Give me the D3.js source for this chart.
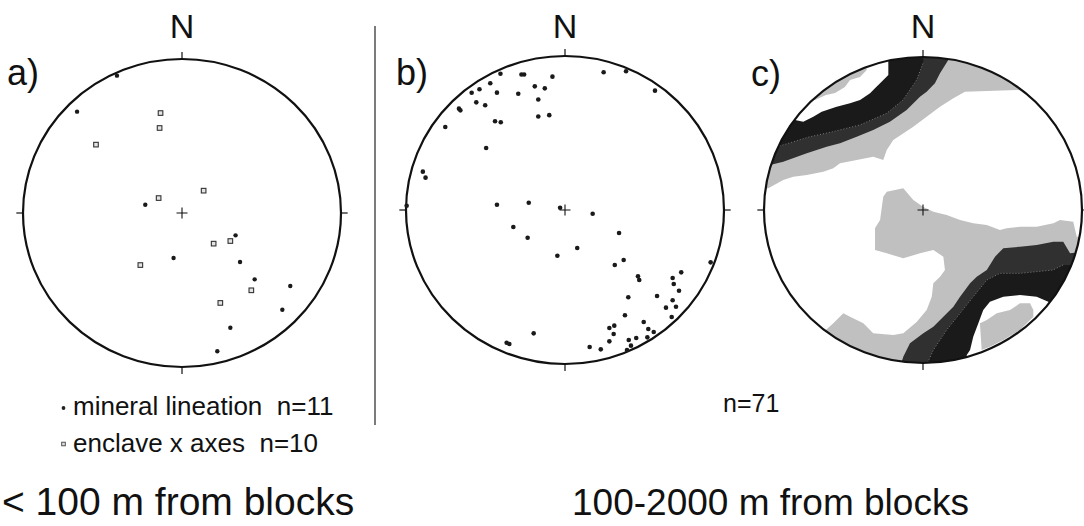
<!doctype html>
<html>

<head>
    <meta charset="utf-8">
    <title>Lineation stereonets</title>
    <style>
        body {
            margin: 0;
            background: #fff;
        }

        svg {
            display: block;
            font-family: "Liberation Sans", Arial, Helvetica, sans-serif;
        }
    </style>
    <script src="https://cdn.jsdelivr.net/npm/d3@7"></script>
</head>

<body>
    <svg width="1084" height="526"></svg>
    <script>
        // positions are [east, north] on the unit net (radius 1)
        var lineationA = [
            [-0.409, 0.892], [-0.660, 0.658], [-0.231, 0.054], [-0.053, -0.292],
            [0.337, -0.145], [0.365, -0.318], [0.457, -0.431], [0.681, -0.474],
            [0.631, -0.628], [0.304, -0.745], [0.222, -0.898]
        ];
        var enclaveA = [
            [-0.135, 0.649], [-0.141, 0.552], [-0.541, 0.444], [-0.147, 0.097],
            [0.136, 0.145], [0.199, -0.199], [0.304, -0.182], [-0.262, -0.338],
            [0.436, -0.502], [0.241, -0.584]
        ];
        var lineationB = [
            [-0.406, 0.885], [-0.274, 0.880], [-0.257, 0.880], [-0.079, 0.866], [-0.470, 0.823],
            [-0.587, 0.761], [-0.538, 0.784], [-0.428, 0.762], [-0.294, 0.755], [-0.190, 0.803],
            [-0.127, 0.790], [-0.168, 0.718], [-0.558, 0.699], [-0.502, 0.680], [-0.667, 0.658],
            [-0.658, 0.647], [-0.440, 0.576], [-0.404, 0.570], [-0.168, 0.607], [-0.099, 0.616],
            [-0.753, 0.539], [-0.496, 0.403], [-0.894, 0.249], [-0.877, 0.210], [-0.996, 0.028],
            [0.243, 0.894], [0.384, 0.901], [0.566, 0.775], [-0.428, 0.034], [-0.228, 0.047],
            [-0.031, 0.015], [0.174, -0.024], [-0.325, -0.110], [-0.235, -0.180], [0.077, -0.247],
            [-0.048, -0.297], [0.340, -0.149], [0.369, -0.325], [0.313, -0.357], [0.916, -0.340],
            [0.459, -0.431], [0.467, -0.455], [0.677, -0.442], [0.684, -0.481], [0.731, -0.405],
            [0.717, -0.524], [0.398, -0.567], [0.579, -0.558], [0.677, -0.586], [0.635, -0.634],
            [0.698, -0.628], [0.671, -0.695], [0.377, -0.683], [0.495, -0.727], [0.279, -0.766],
            [0.310, -0.751], [0.524, -0.773], [0.558, -0.792], [0.306, -0.805], [0.518, -0.827],
            [0.448, -0.831], [0.401, -0.844], [0.279, -0.853], [0.415, -0.881], [0.390, -0.909],
            [0.155, -0.890], [0.225, -0.905], [-0.197, -0.801], [-0.367, -0.862], [-0.350, -0.870]
        ];

        // density contour outlines for net c (points outside radius 1 are cut by the rim)
        var nwLevel1 = [
            [-1.1, 0.13], [-0.973, 0.142], [-0.879, 0.196], [-0.816, 0.218], [-0.731, 0.229],
            [-0.627, 0.250], [-0.564, 0.273], [-0.522, 0.305], [-0.417, 0.327], [-0.313, 0.348],
            [-0.250, 0.327], [-0.228, 0.392], [-0.187, 0.458], [-0.061, 0.544], [0.023, 0.610],
            [0.107, 0.675], [0.191, 0.730], [0.264, 0.773], [0.589, 0.784], [0.66, 0.78],
            [0.75, 0.9], [0.6, 1.2], [-0.5, 1.2], [-1.2, 0.5]
        ];
        var nwLevel2 = [
            [-1.1, 0.288], [-0.962, 0.294], [-0.879, 0.316], [-0.731, 0.371], [-0.606, 0.414],
            [-0.522, 0.436], [-0.417, 0.479], [-0.313, 0.523], [-0.208, 0.577], [-0.103, 0.654],
            [-0.019, 0.741], [0.023, 0.773], [0.075, 0.828], [0.107, 0.893], [0.159, 0.980],
            [0.2, 1.2], [-0.6, 1.2], [-1.2, 0.6]
        ];
        var nwLevel3 = [
            [-1.1, 0.42], [-0.920, 0.414], [-0.881, 0.425], [-0.711, 0.479], [-0.566, 0.512],
            [-0.396, 0.556], [-0.228, 0.632], [-0.126, 0.719], [-0.040, 0.850], [0.000, 0.959],
            [0.013, 1.1], [0.01, 1.2], [-1.2, 1.2]
        ];
        var nwLevel4 = [
            [-0.9, 0.65], [-0.805, 0.588], [-0.753, 0.577], [-0.690, 0.610], [-0.637, 0.642],
            [-0.543, 0.675], [-0.459, 0.697], [-0.396, 0.719], [-0.333, 0.763], [-0.302, 0.795],
            [-0.270, 0.828], [-0.218, 0.882], [-0.218, 0.948], [-0.22, 1.1], [-0.9, 1.0]
        ];
        var nwLevel5 = [
            [-0.76, 0.72], [-0.679, 0.719], [-0.610, 0.752], [-0.553, 0.765], [-0.491, 0.804],
            [-0.459, 0.850], [-0.396, 0.869], [-0.354, 0.915], [-0.36, 1.0], [-0.7, 0.9]
        ];
        var seLevel1 = [
            [-0.228, 0.120], [-0.124, 0.142], [-0.061, 0.065], [0.002, 0.020], [0.065, -0.011],
            [0.149, -0.033], [0.233, -0.065], [0.316, -0.087], [0.401, -0.098], [0.484, -0.131],
            [0.526, -0.120], [0.610, -0.109], [0.715, -0.109], [0.820, -0.087], [0.862, -0.065],
            [0.945, -0.076], [0.967, -0.175], [1.2, -0.2], [1.2, -1.2], [-0.7, -1.2],
            [-0.65, -0.82], [-0.564, -0.741], [-0.501, -0.675], [-0.459, -0.697], [-0.375, -0.741],
            [-0.313, -0.806], [-0.187, -0.817], [-0.124, -0.806], [-0.040, -0.732], [0.023, -0.654],
            [0.055, -0.567], [0.065, -0.479], [0.107, -0.436], [0.138, -0.392], [0.128, -0.305],
            [0.065, -0.261], [-0.019, -0.283], [-0.124, -0.316], [-0.228, -0.283], [-0.302, -0.261],
            [-0.302, -0.120], [-0.270, -0.065], [-0.250, 0.087]
        ];
        var seLevel2 = [
            [1.2, -0.25], [0.925, -0.283], [0.882, -0.207], [0.820, -0.207], [0.715, -0.229],
            [0.610, -0.240], [0.505, -0.250], [0.453, -0.305], [0.401, -0.392], [0.338, -0.436],
            [0.296, -0.479], [0.233, -0.567], [0.191, -0.632], [0.128, -0.697], [0.065, -0.763],
            [0.002, -0.806], [-0.082, -0.871], [-0.124, -0.959], [-0.134, -0.992], [-0.14, -1.2],
            [1.2, -1.2]
        ];
        var seLevel3 = [
            [1.2, -0.36], [0.881, -0.359], [0.818, -0.392], [0.610, -0.414], [0.484, -0.414],
            [0.401, -0.458], [0.316, -0.567], [0.233, -0.675], [0.149, -0.784], [0.065, -0.915],
            [0.031, -0.993], [0.03, -1.2], [1.2, -1.2]
        ];
        var seLevel4 = [
            [0.9, -0.65], [0.788, -0.599], [0.715, -0.567], [0.610, -0.556], [0.505, -0.567],
            [0.421, -0.599], [0.379, -0.654], [0.348, -0.741], [0.316, -0.828], [0.296, -0.915],
            [0.275, -0.948], [0.28, -1.2], [1.2, -1.2]
        ];
        var seLevel5 = [
            [0.358, -0.741], [0.401, -0.719], [0.464, -0.675], [0.547, -0.654], [0.610, -0.610],
            [0.673, -0.610], [0.694, -0.654], [0.694, -0.697], [0.610, -0.784], [0.505, -0.850],
            [0.421, -0.893], [0.369, -0.915]
        ];

        var panelLabels = ["a)", "b)", "c)"];
        var legendLabels = ["mineral lineation  n=11", "enclave x axes  n=10"];
        var countLabel = "n=71";
        var titles = ["< 100 m from blocks", "100-2000 m from blocks"];

        var svg = d3.select("svg");

        var nets = [
            { cx: 182, cy: 213, rx: 159, ry: 154, lx: 7, ly: 85 },
            { cx: 565, cy: 210, rx: 159, ry: 154, lx: 396, ly: 85 },
            { cx: 923, cy: 210, rx: 159, ry: 153, lx: 751, ly: 86 }
        ];

        nets.forEach(function (n, i) {
            n.x = d3.scaleLinear().domain([-1, 1]).range([n.cx - n.rx, n.cx + n.rx]);
            n.y = d3.scaleLinear().domain([-1, 1]).range([n.cy + n.ry, n.cy - n.ry]);
            n.g = svg.append("g");
        });

        // --- net c: shaded density contours
        var c = nets[2];
        svg.append("clipPath").attr("id", "rimC")
            .append("ellipse")
            .attr("cx", c.x(0)).attr("cy", c.y(0))
            .attr("rx", c.x(1) - c.x(0)).attr("ry", c.y(0) - c.y(1));

        var layers = [
            { pts: nwLevel1, fill: "#c0c0c0" },
            { pts: nwLevel2, fill: "#303030" },
            { pts: nwLevel3, fill: "#1a1a1a" },
            { pts: nwLevel4, fill: "#ffffff" },
            { pts: nwLevel5, fill: "#c0c0c0" },
            { pts: seLevel1, fill: "#c0c0c0" },
            { pts: seLevel2, fill: "#303030" },
            { pts: seLevel3, fill: "#1a1a1a" },
            { pts: seLevel4, fill: "#ffffff" },
            { pts: seLevel5, fill: "#c0c0c0" }
        ];

        var poly = d3.line()
            .x(function (d) { return c.x(d[0]); })
            .y(function (d) { return c.y(d[1]); })
            .curve(d3.curveLinearClosed);

        var shade = c.g.append("g").attr("clip-path", "url(#rimC)");
        shade.selectAll("path.level")
            .data(layers)
            .enter().append("path")
            .attr("class", "level")
            .attr("d", function (d) { return poly(d.pts); })
            .attr("fill", function (d) { return d.fill; });

        // dotted contour lines inside the dark bands
        var openLine = d3.line()
            .x(function (d) { return c.x(d[0]); })
            .y(function (d) { return c.y(d[1]); });
        shade.selectAll("path.dots")
            .data([nwLevel3.slice(1, 10), seLevel3.slice(1, 11)])
            .enter().append("path")
            .attr("class", "dots")
            .attr("d", openLine)
            .attr("fill", "none")
            .attr("stroke", "#7a7a7a")
            .attr("stroke-width", 1)
            .attr("stroke-dasharray", "1,2");

        // --- rims, ticks, centre crosses, N labels
        nets.forEach(function (n, i) {
            n.g.append("ellipse")
                .attr("cx", n.x(0)).attr("cy", n.y(0))
                .attr("rx", n.x(1) - n.x(0)).attr("ry", n.y(0) - n.y(1))
                .attr("fill", "none")
                .attr("stroke", "#111")
                .attr("stroke-width", 2.2);

            var ticks = [[0, 1, 0, 1.045], [0, -1, 0, -1.045], [1, 0, 1.042, 0], [-1, 0, -1.042, 0]];
            n.g.selectAll("line.tick")
                .data(ticks)
                .enter().append("line")
                .attr("class", "tick")
                .attr("x1", function (d) { return n.x(d[0]); })
                .attr("y1", function (d) { return n.y(d[1]); })
                .attr("x2", function (d) { return n.x(d[2]); })
                .attr("y2", function (d) { return n.y(d[3]); })
                .attr("stroke", "#111")
                .attr("stroke-width", 1.2);

            n.g.append("path")
                .attr("d", "M" + (n.x(0) - 5.5) + "," + n.y(0) + "H" + (n.x(0) + 5.5) +
                    "M" + n.x(0) + "," + (n.y(0) - 5.5) + "V" + (n.y(0) + 5.5))
                .attr("stroke", "#111")
                .attr("stroke-width", 1.1);

            n.g.append("text")
                .attr("x", n.x(0))
                .attr("y", 38)
                .attr("text-anchor", "middle")
                .attr("font-size", 34)
                .attr("fill", "#111")
                .text("N");

            n.g.append("text")
                .attr("x", n.lx)
                .attr("y", n.ly)
                .attr("font-size", 36)
                .attr("fill", "#111")
                .text(panelLabels[i]);
        });

        // --- net a: lineations (dots) and enclave axes (squares)
        var a = nets[0];
        a.g.selectAll("rect.enclave")
            .data(enclaveA)
            .enter().append("rect")
            .attr("class", "enclave")
            .attr("x", function (d) { return a.x(d[0]) - 2.3; })
            .attr("y", function (d) { return a.y(d[1]) - 2.3; })
            .attr("width", 4.6)
            .attr("height", 4.6)
            .attr("fill", "#e4e4e4")
            .attr("stroke", "#333")
            .attr("stroke-width", 1.1);

        a.g.selectAll("circle.lin")
            .data(lineationA)
            .enter().append("circle")
            .attr("class", "lin")
            .attr("cx", function (d) { return a.x(d[0]); })
            .attr("cy", function (d) { return a.y(d[1]); })
            .attr("r", 2.2)
            .attr("fill", "#1a1a1a");

        // --- net b
        var b = nets[1];
        b.g.selectAll("circle.lin")
            .data(lineationB)
            .enter().append("circle")
            .attr("class", "lin")
            .attr("cx", function (d) { return b.x(d[0]); })
            .attr("cy", function (d) { return b.y(d[1]); })
            .attr("r", 2.3)
            .attr("fill", "#1a1a1a");

        // --- divider
        svg.append("line")
            .attr("x1", 375).attr("x2", 375)
            .attr("y1", 26).attr("y2", 425)
            .attr("stroke", "#444")
            .attr("stroke-width", 1.4);

        // --- legend
        var legend = svg.append("g");
        legend.append("circle")
            .attr("cx", 63.5).attr("cy", 408).attr("r", 1.9).attr("fill", "#222");
        legend.append("rect")
            .attr("x", 61.7).attr("y", 442.2).attr("width", 3.6).attr("height", 3.6)
            .attr("fill", "#ddd").attr("stroke", "#444").attr("stroke-width", 0.9);
        legend.selectAll("text")
            .data(legendLabels)
            .enter().append("text")
            .attr("x", 73)
            .attr("y", function (d, i) { return 415 + i * 36.5; })
            .attr("font-size", 26)
            .attr("fill", "#111")
            .style("white-space", "pre")
            .text(function (d) { return d; });

        svg.append("text")
            .attr("x", 723)
            .attr("y", 412)
            .attr("font-size", 25)
            .attr("fill", "#111")
            .text(countLabel);

        // --- titles
        svg.selectAll("text.title")
            .data(titles)
            .enter().append("text")
            .attr("class", "title")
            .attr("x", function (d, i) { return i === 0 ? 2 : 572; })
            .attr("y", 515)
            .attr("font-size", function (d, i) { return i === 0 ? 39 : 37; })
            .attr("fill", "#111")
            .text(function (d) { return d; });
    </script>
</body>

</html>
